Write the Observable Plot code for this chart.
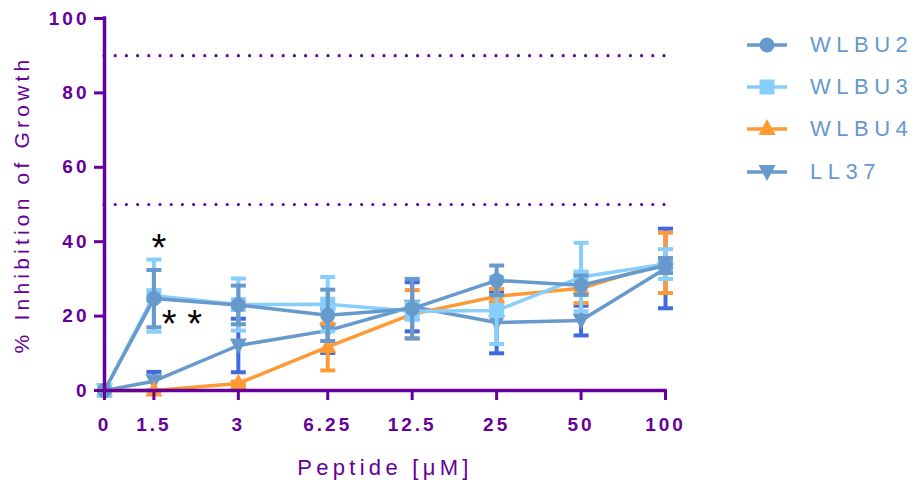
<!DOCTYPE html>
<html>
<head>
<meta charset="utf-8">
<script src="https://cdn.jsdelivr.net/npm/d3@7"></script>
<script src="https://cdn.jsdelivr.net/npm/@observablehq/plot@0.6"></script>
<style>
  html, body { margin: 0; padding: 0; background: #fff; }
  #wrap { position: relative; width: 915px; height: 480px; font-family: "Liberation Sans", Arial, sans-serif; }
  #chart svg { position: absolute; left: 0; top: 0; overflow: visible; }
  #chart [aria-label="x-axis tick label"] text,
  #chart [aria-label="y-axis tick label"] text { font-size: 19px; font-weight: bold; letter-spacing: 3px; font-family: "Liberation Sans", Arial, sans-serif; }
  #chart [aria-label="x-axis label"] text { font-size: 22px; letter-spacing: 4.3px; font-family: "Liberation Sans", Arial, sans-serif; }
  #chart [aria-label="y-axis label"] text { font-size: 21px; letter-spacing: 4.2px; font-family: "Liberation Sans", Arial, sans-serif; }
  .legend-row { position: absolute; left: 747px; height: 30px; display: flex; align-items: center; }
  .legend-row span { margin-left: 23px; font-size: 22px; letter-spacing: 5.5px; color: #6699CC; font-family: "Liberation Sans", Arial, sans-serif; }
</style>
</head>
<body>
<div id="wrap"><div id="chart"></div><div id="legend"></div></div>
<script>
// ---------- data ----------
const concentrations = [0, 1.5, 3, 6.25, 12.5, 25, 50, 100];
const xTickLabels = ["0", "1.5", "3", "6.25", "12.5", "25", "50", "100"];
const yTicks = [0, 20, 40, 60, 80, 100];
const seriesNames = ["WLBU2", "WLBU3", "WLBU4", "LL37"];
const wlbu2Mean = [0, 24.7, 23.0, 20.2, 22.0, 29.6, 28.3, 33.6];
const wlbu2Err  = [0, 7.7, 5.2, 6.9, 8.0, 4.0, 2.6, 2.0];
const wlbu3Mean = [0, 25.5, 23.1, 23.2, 21.3, 21.5, 30.5, 34.0];
const wlbu3Err  = [0, 9.7, 7.0, 7.3, 2.3, 9.0, 9.2, 4.0];
const wlbu4Mean = [0, 0, 1.9, 11.7, 20.5, 25.3, 27.5, 34.3];
const wlbu4Err  = [0, 0, 0.5, 6.3, 6.5, 2.0, 4.0, 8.1];
const ll37Mean  = [0, 2.5, 12.1, 16.1, 22.5, 18.3, 18.8, 32.8];
const ll37Err   = [0, 2.5, 7.2, 6.0, 6.6, 8.3, 4.0, 10.7];
const referenceLines = [50, 90];
const annotationText = ["*", "* *"];
const annotationConc = [1.5, 1.5];
const annotationY = [38.0, 17.6];

// ---------- styling ----------
const purple = "#660099";
const colors = {WLBU2: "#6699CC", WLBU3: "#87CEFA", WLBU4: "#FF9933", LL37: "#6699CC"};
const errColors = {WLBU2: "#6699CC", WLBU3: "#87CEFA", WLBU4: "#FF9933", LL37: "#4169E1"};
const annotationDx = [5, 28];

function poly(pts) {
  return {draw(ctx) { ctx.moveTo(pts[0][0], pts[0][1]); for (let i = 1; i < pts.length; i++) ctx.lineTo(pts[i][0], pts[i][1]); ctx.closePath(); }};
}
const circleSym = {draw(ctx) { ctx.moveTo(7.5, 0); ctx.arc(0, 0, 7.5, 0, 2 * Math.PI); }};
const squareSym = poly([[-7.5, -7.5], [7.5, -7.5], [7.5, 7.5], [-7.5, 7.5]]);
const triUpSym = poly([[0, -10], [8.5, 6], [-8.5, 6]]);
const triDownSym = poly([[-8.5, -7], [8.5, -7], [0, 9]]);
const capSym = poly([[-7.5, -2], [7.5, -2], [7.5, 2], [-7.5, 2]]);
const symbols = {WLBU2: circleSym, WLBU3: squareSym, WLBU4: triUpSym, LL37: triDownSym};

// x axis is log2 of concentration; 0 µM is drawn where 1 µM would be (as in the original graph)
const placeX = c => Math.log2(c === 0 ? 1 : c);
const xTickPositions = concentrations.map(placeX);

const means = {WLBU2: wlbu2Mean, WLBU3: wlbu3Mean, WLBU4: wlbu4Mean, LL37: ll37Mean};
const errs = {WLBU2: wlbu2Err, WLBU3: wlbu3Err, WLBU4: wlbu4Err, LL37: ll37Err};

const seriesMarks = [];
for (const name of seriesNames.slice().reverse()) {
  const rows = concentrations.map((c, i) => ({x: placeX(c), y: means[name][i], lo: means[name][i] - errs[name][i], hi: means[name][i] + errs[name][i], e: errs[name][i]}));
  const errRows = rows.filter(d => d.e > 0);
  seriesMarks.push(
    Plot.ruleX(errRows, {x: "x", y1: "lo", y2: "hi", stroke: errColors[name], strokeWidth: 4}),
    Plot.dot(errRows, {x: "x", y: "hi", symbol: capSym, fill: errColors[name], stroke: "none"}),
    Plot.dot(errRows, {x: "x", y: "lo", symbol: capSym, fill: errColors[name], stroke: "none"}),
    Plot.line(rows, {x: "x", y: "y", stroke: colors[name], strokeWidth: 3.5}),
    Plot.dot(rows, {x: "x", y: "y", symbol: symbols[name], fill: colors[name], stroke: "none"})
  );
}

const annotations = annotationText.map((t, i) => ({x: placeX(annotationConc[i]), y: annotationY[i], text: t, dx: annotationDx[i]}));
const xStart = placeX(concentrations[0]);
const xEnd = placeX(concentrations[concentrations.length - 1]);

const chart = Plot.plot({
  width: 915,
  height: 480,
  marginLeft: 104,
  marginRight: 250,
  marginTop: 18,
  marginBottom: 90,
  style: {color: purple, background: "transparent", fontFamily: "Liberation Sans, Arial, sans-serif"},
  x: {type: "linear", domain: [xStart, xEnd]},
  y: {domain: [yTicks[0], yTicks[yTicks.length - 1]]},
  marks: [
    Plot.ruleY(referenceLines, {stroke: purple, strokeWidth: 3.2, strokeDasharray: "0 11.2", strokeLinecap: "round"}),
    ...seriesMarks,
    Plot.ruleY([yTicks[0]], {x1: xStart, x2: xEnd, stroke: purple, strokeWidth: 3.5, strokeDasharray: "none", strokeLinecap: "square"}),
    Plot.ruleX([xStart], {y1: yTicks[0], y2: yTicks[yTicks.length - 1], stroke: purple, strokeWidth: 3.5, strokeDasharray: "none", strokeLinecap: "square"}),
    Plot.axisX({ticks: xTickPositions, tickFormat: d => xTickLabels[xTickPositions.indexOf(d)], tickSize: 10, tickPadding: 17, strokeWidth: 3, label: "Peptide [μM]", labelAnchor: "center", labelOffset: 84, labelArrow: "none"}),
    Plot.axisY({ticks: yTicks, tickSize: 10, tickPadding: 5, strokeWidth: 3, label: "% Inhibition of Growth", labelAnchor: "center", labelOffset: 90, labelArrow: "none"}),
    ...annotations.map(a => Plot.text([a], {x: "x", y: "y", text: "text", dx: a.dx, fill: "#000", fontSize: 38, textAnchor: "middle", lineAnchor: "middle"}))
  ]
});
document.getElementById("chart").appendChild(chart);

// ---------- legend ----------
const legend = d3.select("#legend");
const rowCenters = [45, 87, 129, 172];
seriesNames.forEach((name, i) => {
  const row = legend.append("div").attr("class", "legend-row").style("top", (rowCenters[i] - 15) + "px");
  const svg = row.append("svg").attr("width", 40).attr("height", 30);
  svg.append("line").attr("x1", 0).attr("x2", 40).attr("y1", 15).attr("y2", 15).attr("stroke", colors[name]).attr("stroke-width", 3.5);
  const p = d3.path(); symbols[name].draw(p, 0);
  svg.append("path").attr("d", p.toString()).attr("transform", "translate(20,15)").attr("fill", colors[name]);
  row.append("span").text(name);
});
</script>
</body>
</html>
